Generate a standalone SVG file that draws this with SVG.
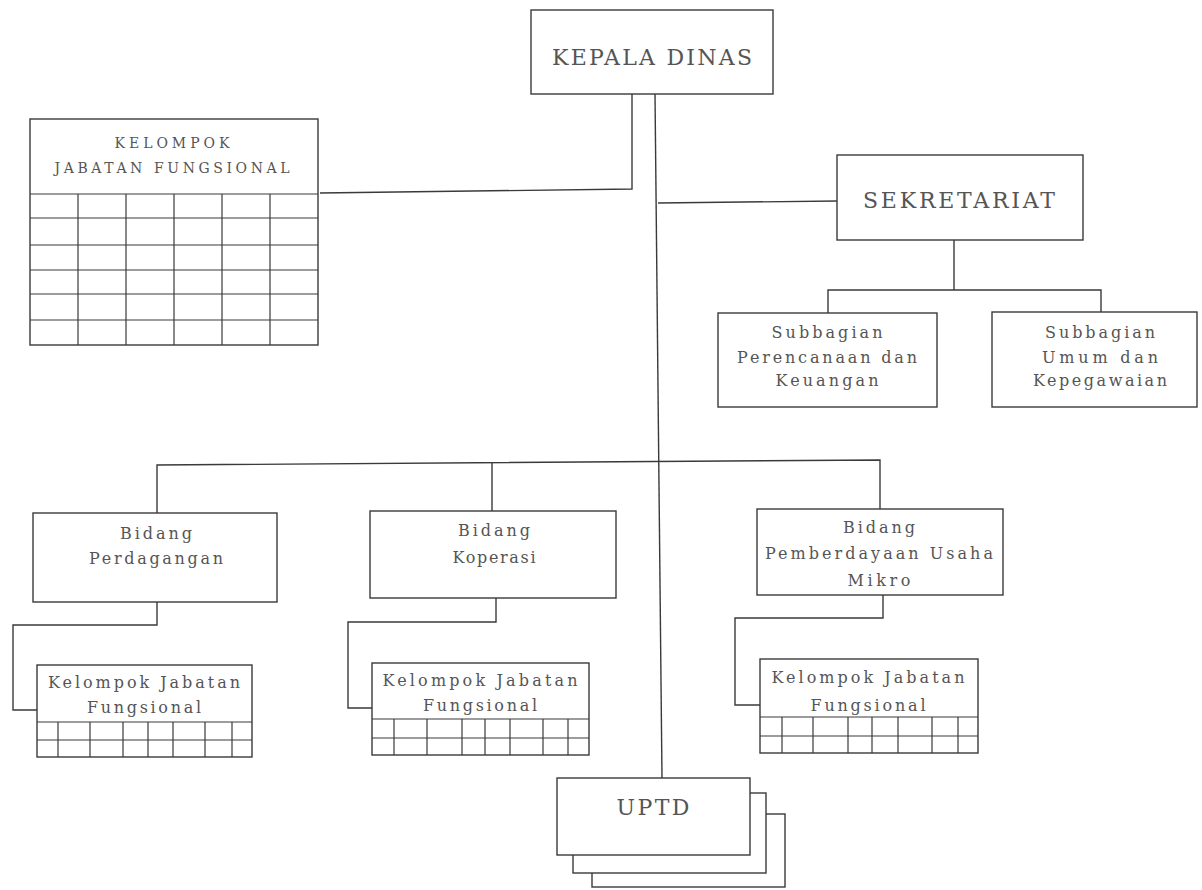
<svg xmlns="http://www.w3.org/2000/svg" width="1202" height="890" viewBox="0 0 1202 890">
<style>
.bx{fill:#fff;stroke:#3a3a3a;stroke-width:1.4}
.gl{fill:none;stroke:#3a3a3a;stroke-width:1.2}
.cn{fill:none;stroke:#3a3a3a;stroke-width:1.4}
text{font-family:"DejaVu Serif","Liberation Serif",serif;fill:#555;text-anchor:middle;dominant-baseline:central}
.t1{font-size:22px}
.t2{font-size:16px}
.t3{font-size:14px}
</style>
<rect width="1202" height="890" fill="#fff"/>
<g id="connectors">
<path class="cn" d="M655 94 L662 778"/>
<path class="cn" d="M632 94 V189 L320 193"/>
<path class="cn" d="M658 203 L837 201"/>
<path class="cn" d="M954 240 V290"/>
<path class="cn" d="M828 313 V290 H1101 V312"/>
<path class="cn" d="M157 513 V465 L880 460 V509"/>
<path class="cn" d="M492 463 V511"/>
<path class="cn" d="M157 602 V625 H13 V710 H37"/>
<path class="cn" d="M496 598 V622 H348 V708 H372"/>
<path class="cn" d="M883 595 V618 H735 V705 H760"/>
</g>
<g id="kepala-dinas">
<rect class="bx" x="531" y="10" width="242" height="84"/>
<text class="t1" x="652" y="57" textLength="200" lengthAdjust="spacing">KEPALA DINAS</text>
</g>
<g id="kjf-utama">
<rect class="bx" x="30" y="119" width="288" height="226"/>
<path class="gl" d="M30 194 H318 M30 218 H318 M30 245 H318 M30 270 H318 M30 294 H318 M30 320 H318 M78 194 V345 M126 194 V345 M174 194 V345 M222 194 V345 M270 194 V345"/>
<text class="t3" x="172" y="143" textLength="115" lengthAdjust="spacing">KELOMPOK</text>
<text class="t3" x="172" y="168" textLength="235" lengthAdjust="spacing">JABATAN FUNGSIONAL</text>
</g>
<g id="sekretariat">
<rect class="bx" x="837" y="155" width="246" height="85"/>
<text class="t1" x="959" y="200" textLength="192" lengthAdjust="spacing">SEKRETARIAT</text>
</g>
<g id="subbagian-pk">
<rect class="bx" x="718" y="313" width="219" height="94"/>
<text class="t2" x="827" y="332" textLength="111" lengthAdjust="spacing">Subbagian</text>
<text class="t2" x="827" y="357" textLength="180" lengthAdjust="spacing">Perencanaan dan</text>
<text class="t2" x="827" y="380" textLength="103" lengthAdjust="spacing">Keuangan</text>
</g>
<g id="subbagian-uk">
<rect class="bx" x="992" y="312" width="205" height="95"/>
<text class="t2" x="1100" y="332" textLength="110" lengthAdjust="spacing">Subbagian</text>
<text class="t2" x="1100" y="357" textLength="116" lengthAdjust="spacing">Umum dan</text>
<text class="t2" x="1100" y="380" textLength="134" lengthAdjust="spacing">Kepegawaian</text>
</g>
<g id="bidang-perdagangan">
<rect class="bx" x="33" y="513" width="244" height="89"/>
<text class="t2" x="156" y="533" textLength="72" lengthAdjust="spacing">Bidang</text>
<text class="t2" x="156" y="558" textLength="134" lengthAdjust="spacing">Perdagangan</text>
</g>
<g id="kjf-perdagangan">
<rect class="bx" x="37" y="665" width="215" height="92"/>
<path class="gl" d="M37 722 H252 M37 740 H252 M58 722 V757 M90 722 V757 M123 722 V757 M148 722 V757 M173 722 V757 M205 722 V757 M232 722 V757"/>
<text class="t2" x="144" y="682" textLength="192" lengthAdjust="spacing">Kelompok Jabatan</text>
<text class="t2" x="144" y="707" textLength="114" lengthAdjust="spacing">Fungsional</text>
</g>
<g id="bidang-koperasi">
<rect class="bx" x="370" y="511" width="246" height="87"/>
<text class="t2" x="494" y="530" textLength="72" lengthAdjust="spacing">Bidang</text>
<text class="t2" x="494" y="557" textLength="83" lengthAdjust="spacing">Koperasi</text>
</g>
<g id="kjf-koperasi">
<rect class="bx" x="372" y="663" width="217" height="92"/>
<path class="gl" d="M372 719 H589 M372 738 H589 M394 719 V755 M427 719 V755 M462 719 V755 M485 719 V755 M510 719 V755 M543 719 V755 M568 719 V755"/>
<text class="t2" x="480" y="680" textLength="195" lengthAdjust="spacing">Kelompok Jabatan</text>
<text class="t2" x="480" y="705" textLength="114" lengthAdjust="spacing">Fungsional</text>
</g>
<g id="bidang-pum">
<rect class="bx" x="757" y="509" width="246" height="86"/>
<text class="t2" x="879" y="527" textLength="72" lengthAdjust="spacing">Bidang</text>
<text class="t2" x="879" y="553" textLength="228" lengthAdjust="spacing">Pemberdayaan Usaha</text>
<text class="t2" x="879" y="580" textLength="63" lengthAdjust="spacing">Mikro</text>
</g>
<g id="kjf-pum">
<rect class="bx" x="760" y="659" width="218" height="94"/>
<path class="gl" d="M760 717 H978 M760 736 H978 M782 717 V753 M813 717 V753 M848 717 V753 M872 717 V753 M898 717 V753 M932 717 V753 M958 717 V753"/>
<text class="t2" x="868" y="677" textLength="193" lengthAdjust="spacing">Kelompok Jabatan</text>
<text class="t2" x="868" y="705" textLength="115" lengthAdjust="spacing">Fungsional</text>
</g>
<g id="uptd">
<rect class="bx" x="592" y="814" width="193" height="73"/>
<rect class="bx" x="573" y="793" width="193" height="80"/>
<rect class="bx" x="557" y="778" width="193" height="77"/>
<text class="t1" x="653" y="807" textLength="73" lengthAdjust="spacing">UPTD</text>
</g>
</svg>
